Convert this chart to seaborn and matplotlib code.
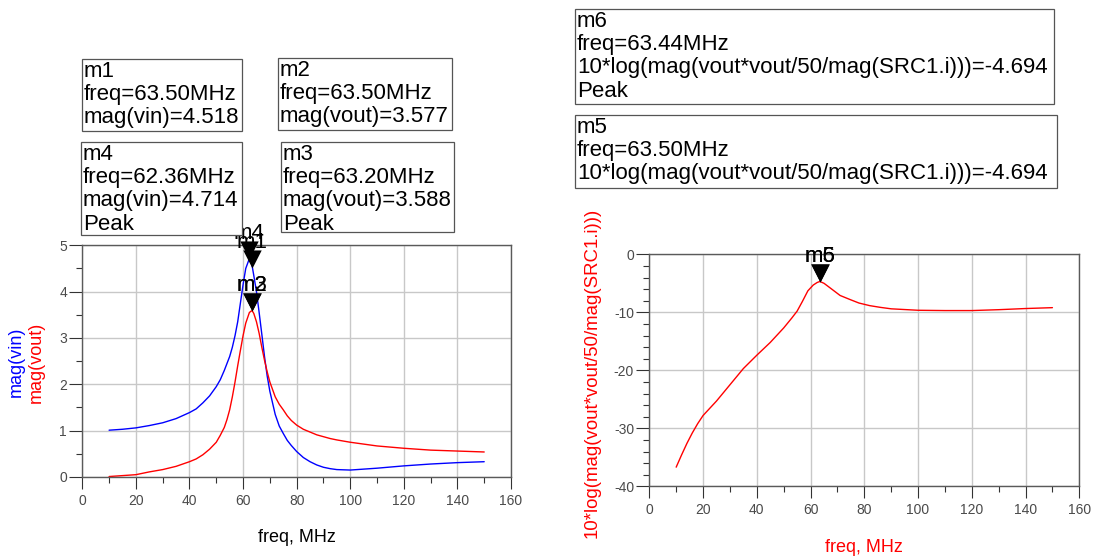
import numpy as np
import matplotlib
matplotlib.use("Agg")
import matplotlib.pyplot as plt
from matplotlib.patches import Rectangle
from matplotlib.path import Path
from matplotlib.ticker import MultipleLocator
import seaborn as sns

# ---- swept responses -------------------------------------------------------
freq_mag = [10, 15, 20, 25, 30, 35, 40, 42.5, 45, 47.5, 50, 51.5, 53, 54, 55,
            56, 57, 58, 59, 60, 61, 62.36, 63.2, 63.5, 64, 65, 66, 67, 68, 69,
            70, 72, 73.5, 75, 76.5, 78, 80, 82.5, 85, 87.5, 90, 92.5, 95, 100,
            110, 120, 130, 140, 150]
mag_vin = [1.01, 1.03, 1.06, 1.11, 1.17, 1.26, 1.39, 1.47, 1.60, 1.75, 1.95,
           2.10, 2.30, 2.45, 2.60, 2.80, 3.05, 3.35, 3.75, 4.15, 4.50, 4.714,
           4.60, 4.518, 4.35, 4.00, 3.55, 3.08, 2.60, 2.18, 1.85, 1.35, 1.10,
           0.94, 0.79, 0.68, 0.55, 0.42, 0.33, 0.26, 0.21, 0.18, 0.16, 0.15,
           0.19, 0.24, 0.28, 0.31, 0.33]
mag_vout = [0.01, 0.03, 0.05, 0.11, 0.16, 0.23, 0.33, 0.39, 0.48, 0.60, 0.75,
            0.90, 1.07, 1.24, 1.45, 1.73, 2.05, 2.40, 2.73, 3.05, 3.32, 3.55,
            3.588, 3.577, 3.53, 3.35, 3.10, 2.80, 2.52, 2.27, 2.05, 1.73, 1.57,
            1.45, 1.32, 1.22, 1.12, 1.03, 0.97, 0.91, 0.87, 0.83, 0.80, 0.75,
            0.67, 0.62, 0.58, 0.56, 0.54]

freq_db = [10, 12, 14, 16, 18, 20, 25, 30, 35, 40, 45, 50, 53, 55, 57, 59,
           61, 62.5, 63.44, 63.5, 65, 67.3, 71, 74.7, 78, 82, 86, 90, 100,
           110, 120, 130, 140, 150]
gain_db = [-36.7, -34.6, -32.6, -30.8, -29.2, -27.8, -25.3, -22.5, -19.7,
           -17.4, -15.2, -12.7, -11.0, -9.8, -8.1, -6.3, -5.3, -4.85, -4.694,
           -4.694, -5.0, -5.8, -7.1, -7.8, -8.4, -8.85, -9.15, -9.4, -9.65,
           -9.7, -9.7, -9.55, -9.35, -9.2]

# ---- markers ---------------------------------------------------------------
mk_left_name = ["m1", "m2", "m3", "m4"]
mk_left_freq = [63.50, 63.50, 63.20, 62.36]
mk_left_val = [4.518, 3.577, 3.588, 4.714]
mk_left_expr = ["mag(vin)", "mag(vout)", "mag(vout)", "mag(vin)"]
mk_left_peak = [False, False, True, True]

db_expr = "10*log(mag(vout*vout/50/mag(SRC1.i)))"
mk_right_name = ["m5", "m6"]
mk_right_freq = [63.50, 63.44]
mk_right_val = [-4.694, -4.694]
mk_right_peak = [False, True]

x_label = "freq, MHz"

# ---- style -----------------------------------------------------------------
sns.set_theme(style="white")
plt.rcParams["font.family"] = ["Liberation Sans", "DejaVu Sans"]
plt.rcParams["axes.unicode_minus"] = False

W, H = 1101, 557
fig = plt.figure(figsize=(W / 100, H / 100), dpi=100)


def fx(px):
    return px / W


def fy(py):
    return 1 - py / H


def axes_rect(x0, y0, x1, y1):
    return [fx(x0), fy(y1), (x1 - x0) / W, (y1 - y0) / H]


ax1 = fig.add_axes(axes_rect(82.3, 245.3, 511.0, 477.0))
ax2 = fig.add_axes(axes_rect(649.3, 254.3, 1079.3, 486.3))

sns.lineplot(x=freq_mag, y=mag_vin, ax=ax1, color="#0000ff", lw=1.0,
             sort=False, estimator=None)
sns.lineplot(x=freq_mag, y=mag_vout, ax=ax1, color="#ff0000", lw=1.0,
             sort=False, estimator=None)
sns.lineplot(x=freq_db, y=gain_db, ax=ax2, color="#ff0000", lw=1.0,
             sort=False, estimator=None)

ax1.set_xlim(0, 160)
ax1.set_ylim(0, 5)
ax2.set_xlim(0, 160)
ax2.set_ylim(-40, 0)

ax1.yaxis.set_major_locator(MultipleLocator(1))
ax1.yaxis.set_minor_locator(MultipleLocator(0.5))
ax2.yaxis.set_major_locator(MultipleLocator(10))
ax2.yaxis.set_minor_locator(MultipleLocator(2))

for ax in (ax1, ax2):
    ax.xaxis.set_major_locator(MultipleLocator(20))
    ax.xaxis.set_minor_locator(MultipleLocator(10))
    ax.set_xlabel("")
    ax.set_ylabel("")
    ax.grid(True, which="major", color="#c8c8c8", lw=1.0)
    ax.set_axisbelow(True)
    for sp in ax.spines.values():
        sp.set_color("#5a5a5a")
        sp.set_linewidth(1.0)
        sp.set_visible(True)
    ax.tick_params(axis="both", which="both", direction="out", color="#333333",
                   width=0.8, labelcolor="#4a4a4a", labelsize=10)
    ax.tick_params(axis="y", which="major", length=9.5, pad=1.5, left=True)
    ax.tick_params(axis="y", which="minor", length=4.3, left=True)
    ax.tick_params(axis="x", which="major", length=8.6, pad=3.5, bottom=True)
    ax.tick_params(axis="x", which="minor", length=4.3, bottom=True)

# downward triangle whose tip sits on the marked point
tri = Path([(0, 0), (-0.51, 1), (0.51, 1), (0, 0)],
           [Path.MOVETO, Path.LINETO, Path.LINETO, Path.CLOSEPOLY])


def put_marker(ax, name, f, v):
    ax.plot([f], [v], linestyle="none", marker=tri, ms=26, color="black",
            mew=0, clip_on=False, zorder=4)
    ax.annotate(name, xy=(f, v), xytext=(0, 14.4), textcoords="offset points",
                ha="center", va="baseline", fontsize=16, color="black",
                annotation_clip=False, zorder=4)


for n, f, v in zip(mk_left_name, mk_left_freq, mk_left_val):
    put_marker(ax1, n, f, v)
for n, f, v in zip(mk_right_name, mk_right_freq, mk_right_val):
    put_marker(ax2, n, f, v)

# axis titles
fig.text(fx(296.6), fy(541.5), x_label, ha="center", va="baseline",
         fontsize=13, color="black")
fig.text(fx(864.3), fy(551.5), x_label, ha="center", va="baseline",
         fontsize=13, color="#ff0000")
fig.text(fx(16.5), fy(362), "mag(vin)", rotation=90, ha="center",
         va="center", fontsize=13, color="#0000ff")
fig.text(fx(36.5), fy(362), "mag(vout)", rotation=90, ha="center",
         va="center", fontsize=13, color="#ff0000")
fig.text(fx(592), fy(372.5), db_expr, rotation=90, ha="center",
         va="center", fontsize=13.4, color="#ff0000")


# marker readout boxes
def readout(box, lines):
    x0, y0, x1, y1 = box
    fig.add_artist(Rectangle((fx(x0), fy(y1)), (x1 - x0) / W, (y1 - y0) / H,
                             transform=fig.transFigure, facecolor="white",
                             edgecolor="#555555", lw=0.9, zorder=5))
    for i, s in enumerate(lines):
        fig.text(fx(x0 + 2), fy(y0 + 17.8 + 23.3 * i), s, ha="left",
                 va="baseline", fontsize=16, color="black", zorder=6)


def lines_for(name, f, expr, v, peak):
    out = [name, f"freq={f:.2f}MHz", f"{expr}={v:.3f}"]
    if peak:
        out.append("Peak")
    return out


left_boxes = {"m1": (82, 59, 242, 131), "m2": (278, 58, 452, 130),
              "m3": (281, 142, 454, 232), "m4": (81, 142, 242, 235)}
for n, f, v, e, p in zip(mk_left_name, mk_left_freq, mk_left_val,
                         mk_left_expr, mk_left_peak):
    readout(left_boxes[n], lines_for(n, f, e, v, p))

right_boxes = {"m5": (575, 115, 1057, 188), "m6": (575, 9, 1054, 104)}
for n, f, v, p in zip(mk_right_name, mk_right_freq, mk_right_val,
                      mk_right_peak):
    readout(right_boxes[n], lines_for(n, f, db_expr, v, p))

fig.savefig("out.png", dpi=100)
